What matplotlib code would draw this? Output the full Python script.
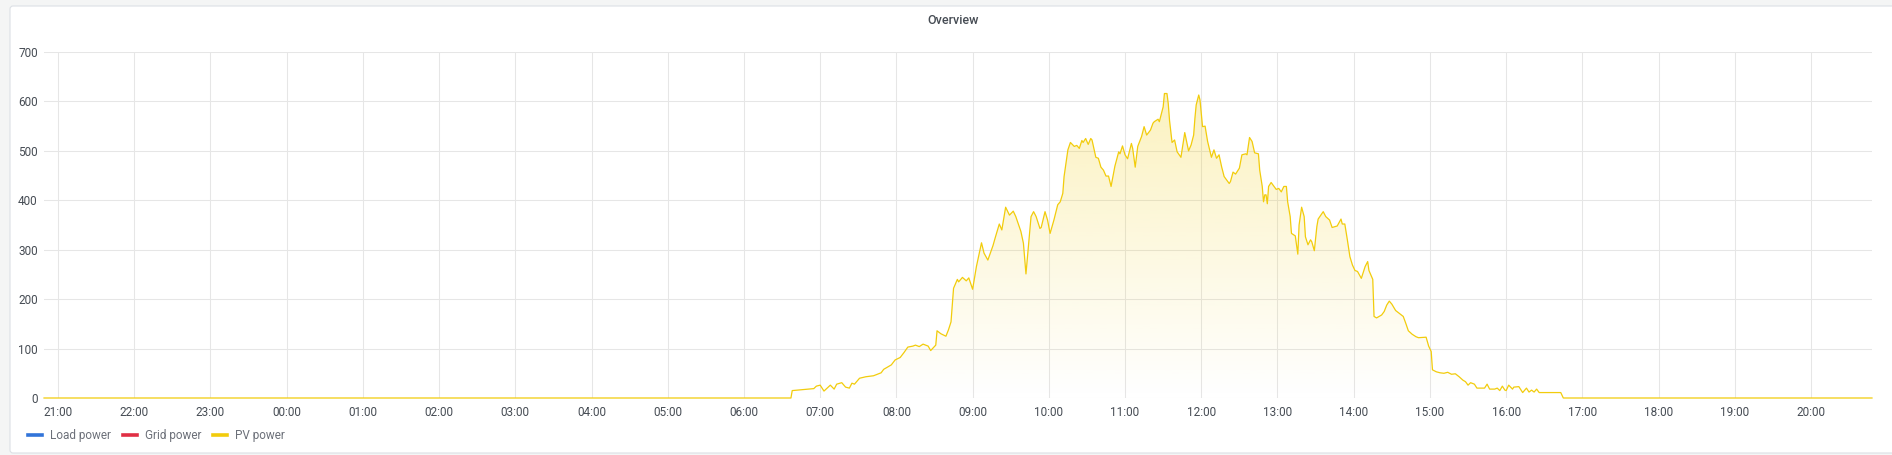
import matplotlib
matplotlib.use('Agg')
import matplotlib.pyplot as plt
import matplotlib.dates as mdates
from matplotlib.lines import Line2D
from matplotlib.patches import FancyBboxPatch
import numpy as np
import pandas as pd

plt.rcParams['font.family'] = ['Roboto', 'DejaVu Sans']

# time window (24 h) and PV samples, minutes after midnight of the shown day
window_start = -191   # 20:49 the day before
window_end = 1248     # 20:48
pv_minute = [-191, 397, 398, 415, 417, 420, 423, 428, 431, 433, 437, 440, 443, 445, 447,
             451, 456, 462, 468, 470, 476, 479, 483, 486, 489, 493, 495, 498, 501, 505,
             507, 511, 512, 515, 519, 521, 523, 525, 528, 529, 532, 535, 537, 540, 543,
             547, 549, 552, 556, 558, 561, 563, 566, 569, 572, 574, 578, 580, 582, 586,
             588, 590, 593, 594, 597, 599, 601, 604, 607, 609, 611, 612, 615, 617, 620,
             622, 624, 626, 627, 629, 631, 633, 634, 637, 639, 641, 643, 645, 647, 649,
             652, 655, 656, 658, 660, 662, 665, 666, 668, 670, 673, 675, 677, 680, 682,
             683, 686, 687, 689, 690, 691, 693, 694, 695, 697, 699, 701, 704, 707, 710,
             712, 714, 715, 716, 718, 719, 721, 723, 725, 728, 730, 732, 734, 736, 738,
             742, 743, 745, 747, 750, 752, 755, 756, 758, 760, 762, 765, 766, 768, 769,
             770, 771, 772, 773, 775, 777, 779, 781, 783, 785, 787, 788, 790, 791, 794,
             796, 797, 799, 801, 802, 804, 806, 807, 809, 811, 812, 816, 818, 821, 823,
             827, 830, 831, 833, 835, 837, 839, 841, 843, 846, 849, 851, 852, 855, 856,
             858, 862, 864, 866, 868, 870, 873, 876, 879, 881, 883, 886, 889, 891, 897,
             899, 901, 902, 905, 908, 911, 914, 917, 920, 923, 926, 928, 930, 932, 935,
             937, 941, 943, 945, 947, 951, 953, 955, 957, 959, 960, 962, 965, 966, 970,
             973, 976, 978, 980, 982, 984, 986, 1003, 1005, 1248]
pv_power = [0, 0, 15, 19, 24, 26, 14, 26, 18, 28, 31, 22, 20, 30, 28,
            40, 43, 45, 51, 58, 67, 77, 82, 92, 103, 105, 107, 104, 109, 105,
            96, 107, 136, 130, 125, 138, 154, 222, 240, 235, 244, 237, 243, 220, 266,
            314, 293, 279, 308, 326, 352, 340, 386, 370, 378, 367, 337, 313, 251, 367,
            377, 367, 343, 345, 377, 360, 333, 360, 391, 397, 414, 448, 502, 517, 509,
            511, 505, 521, 517, 525, 513, 525, 522, 487, 485, 467, 461, 449, 449, 428,
            469, 498, 494, 510, 492, 484, 515, 505, 467, 509, 529, 549, 532, 542, 556,
            559, 564, 559, 579, 589, 616, 616, 596, 562, 517, 522, 498, 487, 537, 500,
            512, 532, 566, 593, 613, 603, 549, 550, 519, 487, 502, 485, 492, 468, 448,
            434, 438, 457, 453, 465, 492, 494, 492, 527, 519, 496, 494, 461, 428, 397,
            411, 411, 393, 428, 436, 429, 422, 424, 417, 428, 428, 397, 367, 333, 328,
            291, 350, 386, 367, 326, 310, 320, 316, 298, 347, 362, 377, 367, 360, 345,
            348, 362, 352, 352, 320, 286, 269, 258, 256, 242, 266, 276, 258, 240, 165,
            162, 168, 175, 188, 196, 190, 177, 171, 165, 151, 136, 129, 124, 122, 123,
            105, 94, 57, 53, 51, 50, 52, 48, 49, 43, 36, 33, 26, 31, 28,
            20, 20, 20, 28, 18, 18, 20, 15, 24, 16, 15, 26, 18, 22, 23,
            11, 20, 12, 16, 12, 18, 11, 11, 0, 0]

series_names = ['Load power', 'Grid power', 'PV power']
series_colors = ['#3274D9', '#E02F44', '#F2CC0C']
y_ticks = [0, 100, 200, 300, 400, 500, 600, 700]

day = pd.Timestamp('2024-01-02')
times = day + pd.to_timedelta(pv_minute, unit='min')
x0 = day + pd.Timedelta(minutes=window_start)
x1 = day + pd.Timedelta(minutes=window_end)

W, H = 1892, 455
fig = plt.figure(figsize=(W / 100, H / 100), dpi=100)
fig.patch.set_facecolor('#f4f5f5')

# panel card
panel = FancyBboxPatch((0.10, 0.02), 19.0, 4.47,
                       boxstyle='round,pad=0,rounding_size=0.03',
                       transform=fig.dpi_scale_trans,
                       facecolor='white', edgecolor='#dce0e5', linewidth=0.8,
                       zorder=-5)
fig.add_artist(panel)

ax = fig.add_axes([44 / W, 1 - 398 / H, (1872 - 44) / W, (398 - 52) / H])
ax.set_zorder(2)
ax.set_facecolor('none')
for s in ax.spines.values():
    s.set_visible(False)

ax.set_xlim(x0, x1)
ax.set_ylim(0, 700)
ax.set_yticks(y_ticks)
ax.xaxis.set_major_locator(mdates.HourLocator())
ax.xaxis.set_major_formatter(mdates.DateFormatter('%H:%M'))
ax.tick_params(length=0, labelsize=8.5, colors='#464c54')
ax.tick_params(axis='x', pad=6)
ax.tick_params(axis='y', pad=4.5)
ax.grid(True, color='#e6e6e6', linewidth=0.75)
ax.set_axisbelow(True)

# gradient fill under PV line
xnum = mdates.date2num(times)
poly = ax.fill_between(xnum, pv_power, 0, facecolor='none', edgecolor='none')
top = max(pv_power)
grad = np.zeros((256, 1, 4))
rgb = matplotlib.colors.to_rgb(series_colors[2])
grad[:, 0, :3] = rgb
grad[:, 0, 3] = np.linspace(0.26, 0.0, 256)
img = ax.imshow(grad, aspect='auto', origin='upper',
                extent=[xnum[0], xnum[-1], 0, top], zorder=2)
img.set_clip_path(poly.get_paths()[0], transform=ax.transData)
ax.set_xlim(x0, x1)
ax.set_ylim(0, 700)

ax.plot(times, pv_power, color=series_colors[2], linewidth=0.9, zorder=3, clip_on=False)

fig.text(953 / W, 1 - 21 / H, 'Overview', ha='center', va='center',
         fontsize=9, color='#464c54', fontweight='medium')

handles = [Line2D([], [], color=c, linewidth=2.6) for c in series_colors]
fig.legend(handles, series_names, loc='center left',
           bbox_to_anchor=(28 / W, 1 - 436 / H), ncol=3, frameon=False,
           fontsize=8.5, labelcolor='#6c7079', handlelength=1.2,
           handletextpad=0.7, columnspacing=0.95, borderpad=0, borderaxespad=0)

fig.savefig('out.png', dpi=100, facecolor=fig.get_facecolor())
